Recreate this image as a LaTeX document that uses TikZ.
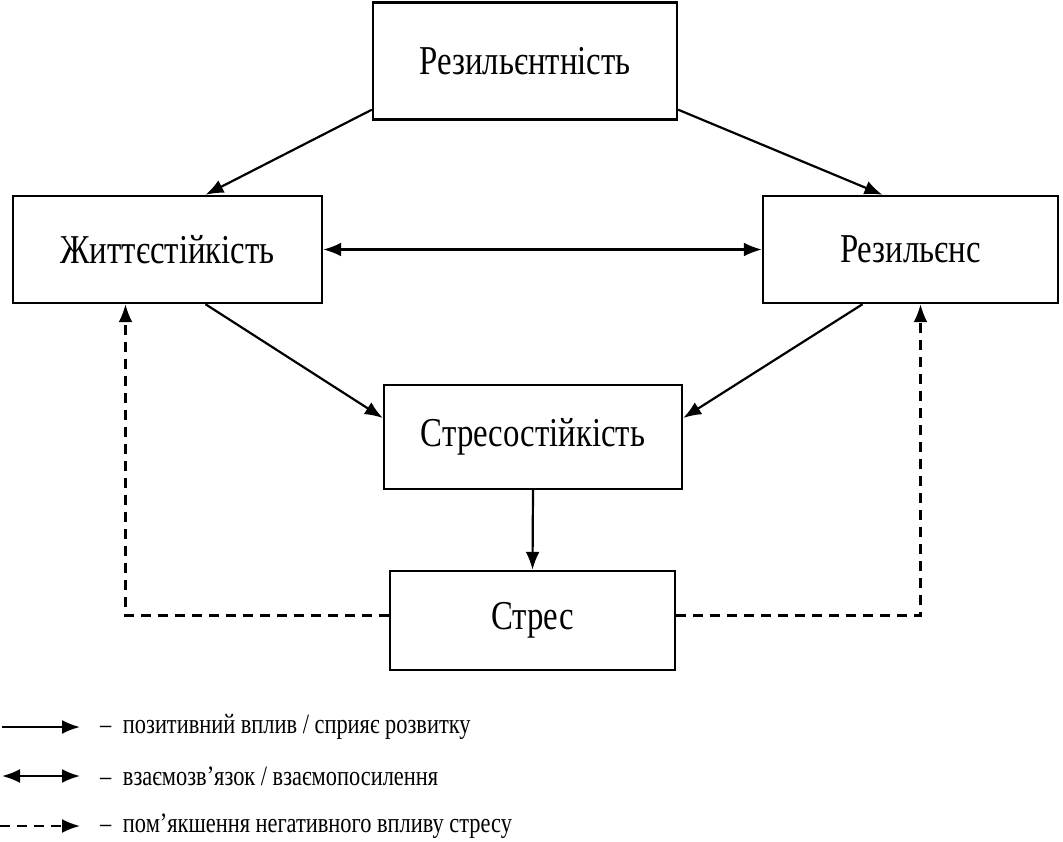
\documentclass[tikz,border=0pt]{standalone}
\usepackage{fontspec}
\setmainfont{Liberation Serif}[FakeStretch = 0.8]
\usetikzlibrary{arrows.meta}

\tikzset{
    termbox/.style = {draw = black, line width = 2.4pt, fill = white,
                      font = \fontsize{41}{44}\selectfont},
    legend/.style = {anchor = west, inner sep = 0pt,
                     font = \fontsize{28}{31}\selectfont},
    posarrow/.style = {line width = 2.2pt, -{Latex[length = 18pt, width = 14pt]}},
    mutual/.style = {line width = 2.2pt,
                     {Latex[length = 18pt, width = 14pt]}-{Latex[length = 18pt, width = 14pt]}},
    soften/.style = {posarrow, dash pattern = on 10pt off 7pt}
}

\begin{document}
\begin{tikzpicture}[x = 1pt, y = -1pt]
            \useasboundingbox (0, 0) rectangle (1063, 841);

            \node [termbox, minimum width = 304pt, minimum height = 117pt]
                  (res) at (525, 61) {Резильєнтність};
            \node [termbox, minimum width = 309pt, minimum height = 107pt]
                  (zh) at (167.5, 249.5) {Життєстійкість};
            \node [termbox, minimum width = 295pt, minimum height = 107pt]
                  (rs) at (910.5, 249.5) {Резильєнс};
            \node [termbox, minimum width = 298pt, minimum height = 104pt]
                  (so) at (533, 437) {Стресостійкість};
            \node [termbox, minimum width = 285pt, minimum height = 99pt]
                  (st) at (532.5, 620.5) {Стрес};

            \draw [posarrow] ([yshift = 11pt]res.south west) -- ([xshift = 38pt]zh.north); % res -> zh
            \draw [posarrow] ([yshift = 11pt]res.south east) -- ([xshift = -28pt]rs.north); % res -> rs
            \draw [mutual] (zh.east) -- (rs.west); % zh <-> rs
            \draw [posarrow] ([xshift = 38pt]zh.south) -- ([yshift = 19pt]so.west); % zh -> so
            \draw [posarrow] ([xshift = -48pt]rs.south) -- ([yshift = 19pt]so.east); % rs -> so
            \draw [posarrow] (so.south) -- (st.north); % so -> st
            \draw [soften] ([yshift = 5pt]st.west) -| ([xshift = -42pt]zh.south); % st --> zh
            \draw [soften] ([yshift = 5pt]st.east) -| ([xshift = 10pt]rs.south); % st --> rs

            % legend
            \node [legend] (lg1) at (100, 727) {–\hspace{6pt} позитивний вплив / сприяє розвитку};
            \node [legend] (lg2) at (100, 776) {–\hspace{6pt} взаємозв’язок / взаємопосилення};
            \node [legend] (lg3) at (100, 826) {–\hspace{6pt} пом’якшення негативного впливу стресу};

            \draw [posarrow] ([xshift = -98pt]lg1.west) -- ([xshift = -20pt]lg1.west);
            \draw [mutual] ([xshift = -98pt]lg2.west) -- ([xshift = -20pt]lg2.west);
            \draw [soften] ([xshift = -100pt]lg3.west) -- ([xshift = -20pt]lg3.west);
        \end{tikzpicture}
\end{document}
